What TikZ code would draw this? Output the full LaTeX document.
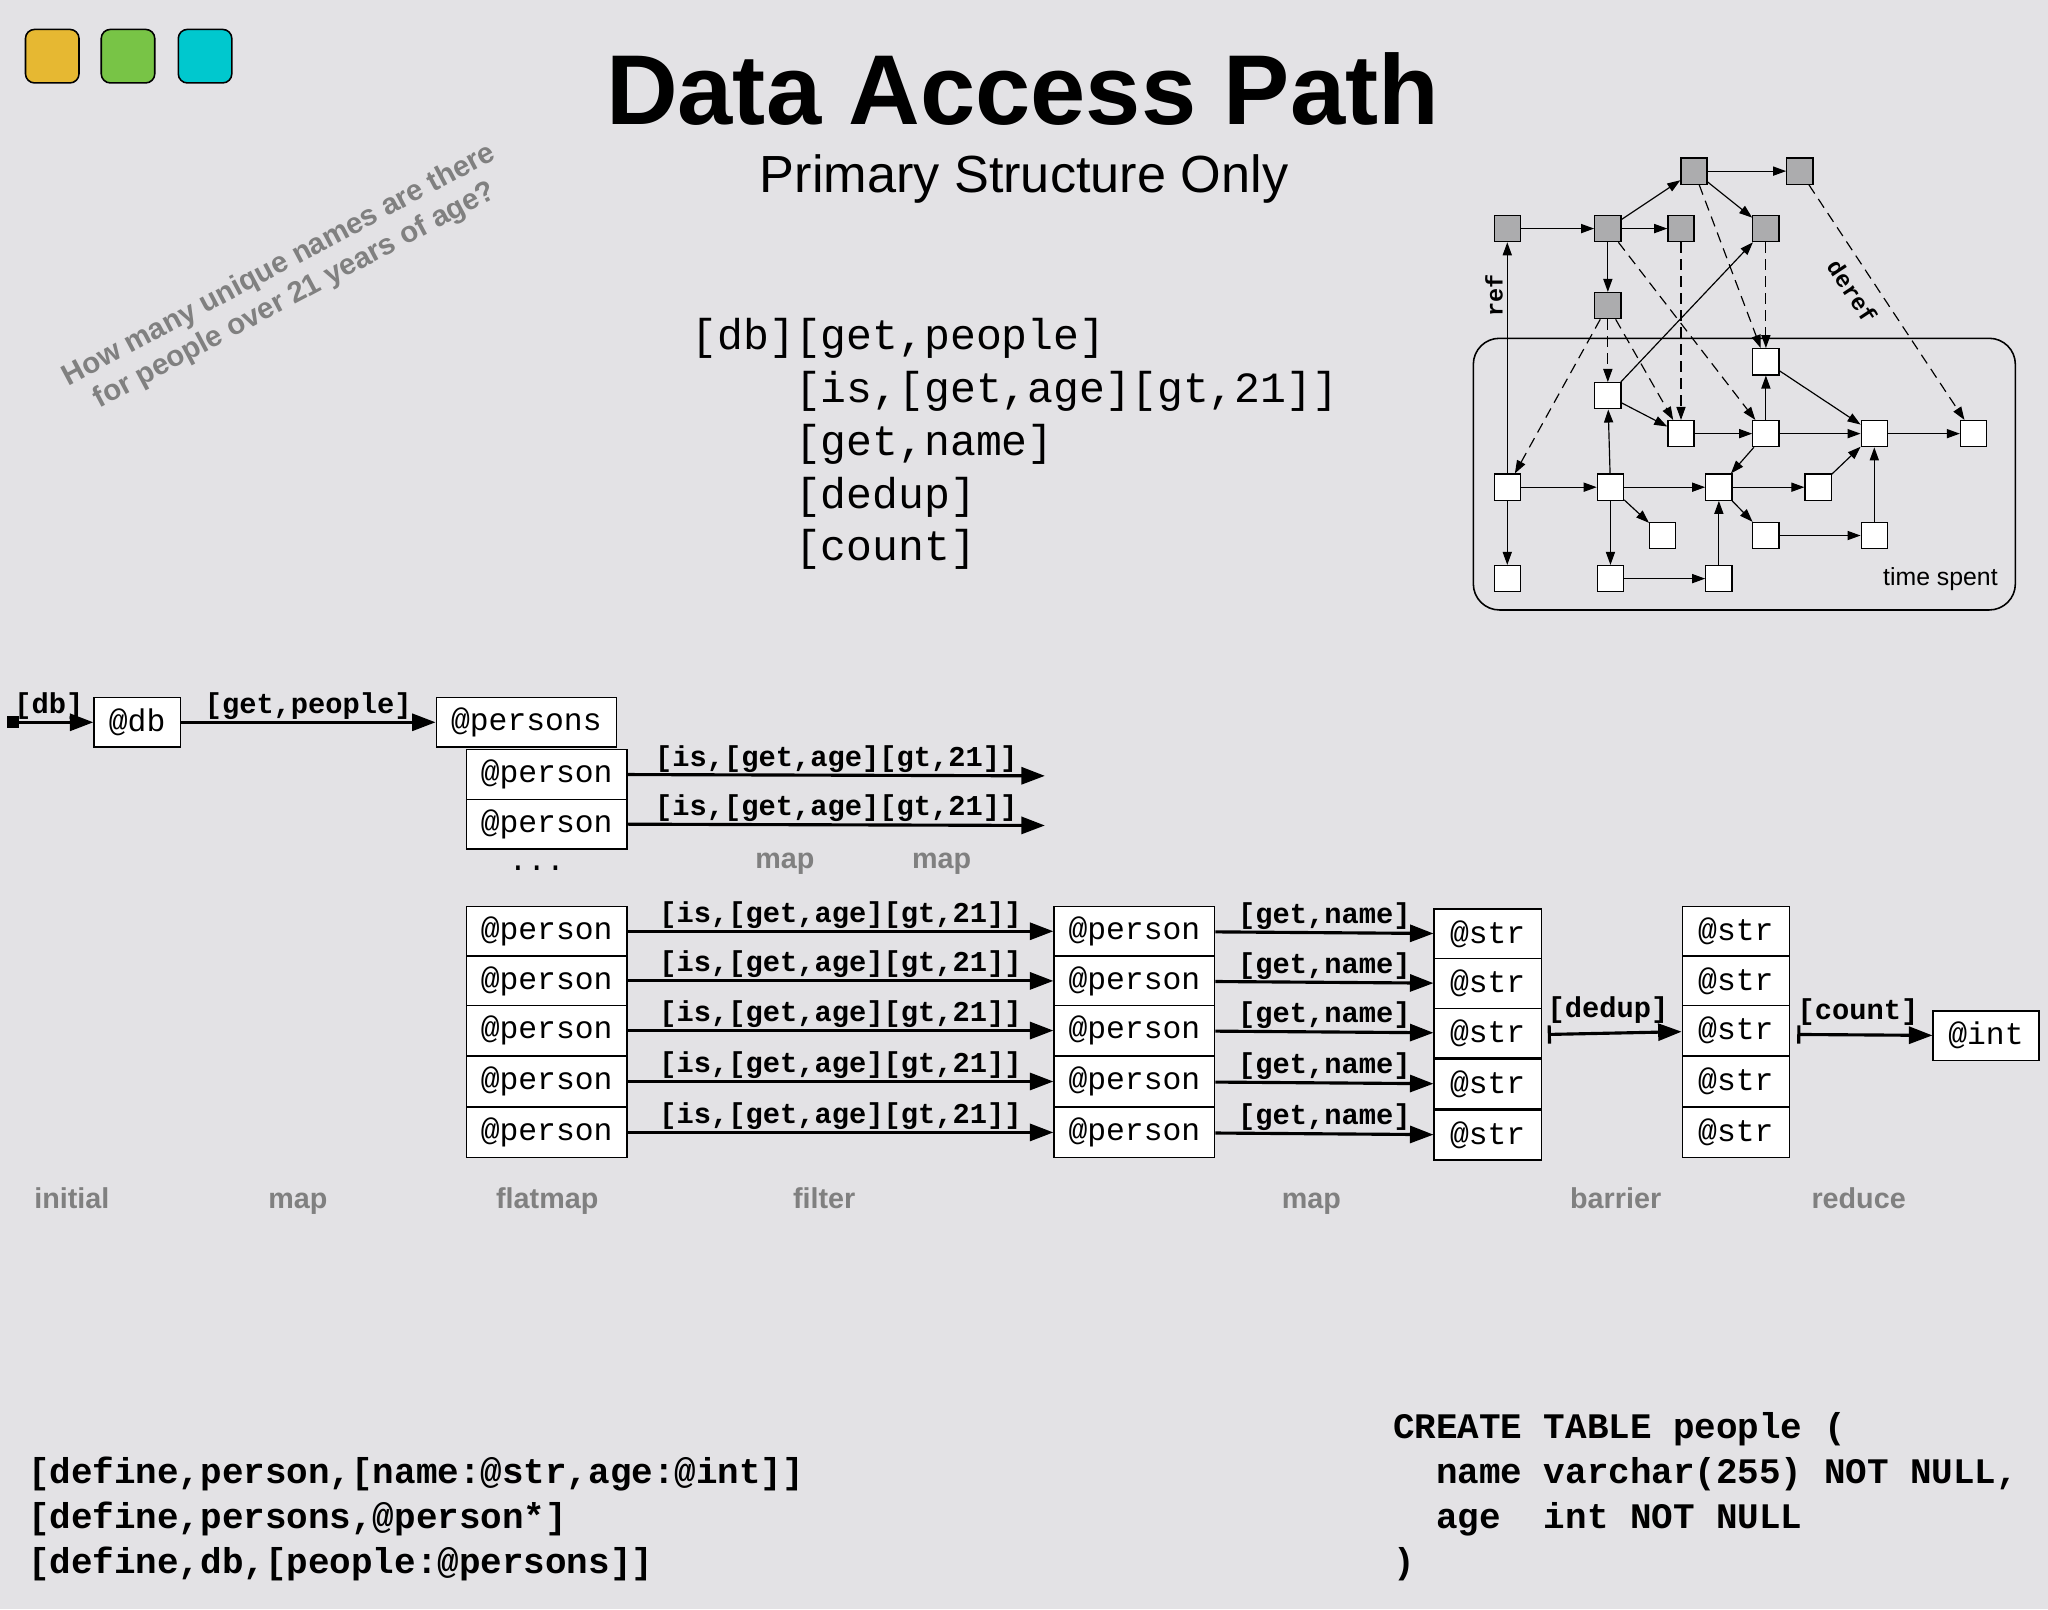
\documentclass[tikz,border=0pt]{standalone}
\usepackage{fontspec}
\setmainfont{Liberation Sans}
\newfontfamily\cour{Liberation Mono}
\usetikzlibrary{arrows.meta}
\definecolor{bg}{RGB}{227,226,229}
\definecolor{lbl}{RGB}{128,128,128}
\definecolor{gbox}{RGB}{172,172,174}
\tikzset{
 fs/.style={font=\cour\fontsize{#1}{#1}\selectfont},
 cell/.style={draw,fill=white,line width=1pt,inner sep=0pt,minimum height=38pt,fs=24},
 big/.style={line width=2.4pt,-{Triangle[length=18pt,width=13pt]}},
 lab/.style={font=\cour\bfseries\fontsize{22}{22}\selectfont,above,inner sep=1pt},
 stage/.style={text=lbl,font=\bfseries\fontsize{22}{22}\selectfont,anchor=base},
 g/.style={draw,line width=1pt,fill=gbox,minimum size=20pt,inner sep=0pt},
 w/.style={draw,line width=1pt,fill=white,minimum size=20pt,inner sep=0pt},
 ga/.style={line width=0.9pt,-{Triangle[length=10pt,width=7pt]}},
 gd/.style={ga,dash pattern=on 8pt off 5pt},
 btn/.style={draw,line width=1.2pt,rounded corners=7pt,minimum size=41pt,inner sep=0pt},
}
\begin{document}
\begin{tikzpicture}[x=1pt,y=-1pt]
\fill[bg] (0,0) rectangle (1568,1232);
\useasboundingbox (0,0) rectangle (1568,1232);
% window buttons
\node[btn,fill={rgb,255:red,230;green,184;blue,50}] (b1) at (40,43) {};
\node[btn,fill={rgb,255:red,120;green,196;blue,70}] (b2) at (98,43) {};
\node[btn,fill={rgb,255:red,0;green,200;blue,206}] (b3) at (157,43) {};
% titles
\node[font=\bfseries\fontsize{76}{76}\selectfont] (title) at (783,68) {Data Access Path};
\node[font=\fontsize{40}{40}\selectfont] (sub) at (784,137) {Primary Structure Only};
\node[text=lbl,rotate=28,align=center,font=\bfseries\fontsize{22.5}{26}\selectfont] (q) at (220,215) {How many unique names are there\\for people over 21 years of age?};
% center code
\node[font=\cour\fontsize{33}{40.5}\selectfont,anchor=north west,align=left] (code) at (526,240) {[db][get,people]\\\phantom{[db]}[is,[get,age][gt,21]]\\\phantom{[db]}[get,name]\\\phantom{[db]}[dedup]\\\phantom{[db]}[count]};
% graph
\draw[line width=1.2pt,rounded corners=20pt] (1128,259) rectangle (1543,467);
\node[font=\fontsize{19}{19}\selectfont,anchor=south east] (ts) at (1533,456) {time spent};
\node[g] (A) at (1154,175) {};
\node[g] (B) at (1231,175) {};
\node[g] (C) at (1287,175) {};
\node[g] (D) at (1297,131) {};
\node[g] (E) at (1378,131) {};
\node[g] (F) at (1352,175) {};
\node[g] (G) at (1231,234) {};
\node[w] (w1) at (1352,277) {};
\node[w] (w2) at (1231,303) {};
\node[w] (w3) at (1287,332) {};
\node[w] (w4) at (1352,332) {};
\node[w] (w5) at (1435,332) {};
\node[w] (w6) at (1511,332) {};
\node[w] (w7) at (1154,373) {};
\node[w] (w8) at (1233,373) {};
\node[w] (w9) at (1316,373) {};
\node[w] (w10) at (1392,373) {};
\node[w] (w11) at (1273,410) {};
\node[w] (w12) at (1352,410) {};
\node[w] (w13) at (1435,410) {};
\node[w] (w14) at (1154,443) {};
\node[w] (w15) at (1233,443) {};
\node[w] (w16) at (1316,443) {};
\foreach \a/\b in {A/B,B/C,B/D,D/E,D/F,B/G,w2/F,w2/w3,w3/w4,w4/w1,w1/w5,w4/w5,w5/w6,w4/w9,w7/w8,w8/w9,w9/w10,w10/w5,w8/w2,w8/w11,w8/w15,w7/w14,w9/w12,w12/w13,w13/w5,w15/w16,w16/w9}
  \draw[ga] (\a) -- (\b);
\draw[ga] (w7) -- node[pos=0.77,sloped,above,inner sep=3pt,font=\cour\bfseries\fontsize{18}{18}\selectfont]{ref} (A);
\foreach \a/\b in {D/w1,F/w1,C/w3,B/w4,G/w2,G/w3,G/w7}
  \draw[gd] (\a) -- (\b);
\draw[gd] (E) -- node[pos=0.4,sloped,below,inner sep=10pt,font=\cour\bfseries\fontsize{18}{18}\selectfont]{deref} (w6);
% main pipeline
\node[fill,minimum size=9pt,inner sep=0pt] (start) at (10,553) {};
\node[cell,minimum width=66pt] (db) at (105,553) {@db};
\node[cell,minimum width=138pt] (ps) at (403,553) {@persons};
\draw[big] (start) -- node[lab,pos=0.4]{[db]} (db);
\draw[big] (db) -- node[lab]{[get,people]} (ps);
\node[cell,minimum width=123pt] (p1) at (418.5,593) {@person};
\node[cell,minimum width=123pt] (p2) at (418.5,631) {@person};
\node[fs=24] (dots) at (411,665) {...};
\coordinate (e1) at (800,594);
\coordinate (e2) at (800,632);
\draw[big] (p1.east) -- node[lab]{[is,[get,age][gt,21]]} (e1);
\draw[big] (p2.east) -- node[lab]{[is,[get,age][gt,21]]} (e2);
\node[stage] (m1) at (601,665) {map};
\node[stage] (m2) at (721,665) {map};
\foreach \i/\y in {1/713,2/751,3/789,4/828,5/867}{
  \node[cell,minimum width=123pt] (q\i) at (418.5,\y) {@person};
  \node[cell,minimum width=123pt] (r\i) at (868.5,\y) {@person};
  \node[cell,minimum width=82pt] (s\i) at (1139,\y+2) {@str};
  \node[cell,minimum width=82pt] (t\i) at (1329,\y) {@str};
  \draw[big] (q\i) -- node[lab]{[is,[get,age][gt,21]]} (r\i);
  \draw[big] (r\i) -- node[lab]{[get,name]} (s\i);
}
\node[cell,minimum width=81pt] (int) at (1520.5,793) {@int};
\coordinate (d0) at (1185,792);
\coordinate (c0) at (1376,792);
\draw[line width=2.4pt,{Bar[width=14pt]}-{Triangle[length=18pt,width=13pt]}] (d0) -- node[lab,pos=0.45,inner sep=6pt]{[dedup]} (t3);
\draw[line width=2.4pt,{Bar[width=14pt]}-{Triangle[length=18pt,width=13pt]}] (c0) -- node[lab,pos=0.45,inner sep=6pt]{[count]} (int);
% stage labels
\node[stage] (l1) at (55,925) {initial};
\node[stage] (l2) at (228,925) {map};
\node[stage] (l3) at (419,925) {flatmap};
\node[stage] (l4) at (631,925) {filter};
\node[stage] (l5) at (1004,925) {map};
\node[stage] (l6) at (1237,925) {barrier};
\node[stage] (l7) at (1423,925) {reduce};
% bottom code
\node[font=\cour\bfseries\fontsize{27.5}{34.5}\selectfont,anchor=north west,align=left] (defs) at (18,1112) {[define,person,[name:@str,age:@int]]\\{}[define,persons,@person*]\\{}[define,db,[people:@persons]]};
\node[font=\cour\bfseries\fontsize{27.5}{34.5}\selectfont,anchor=north west,align=left] (sql) at (1063,1078) {CREATE TABLE people (\\\ \ name varchar(255) NOT NULL,\\\ \ age\ \ int NOT NULL\\)};
\end{tikzpicture}
\end{document}
